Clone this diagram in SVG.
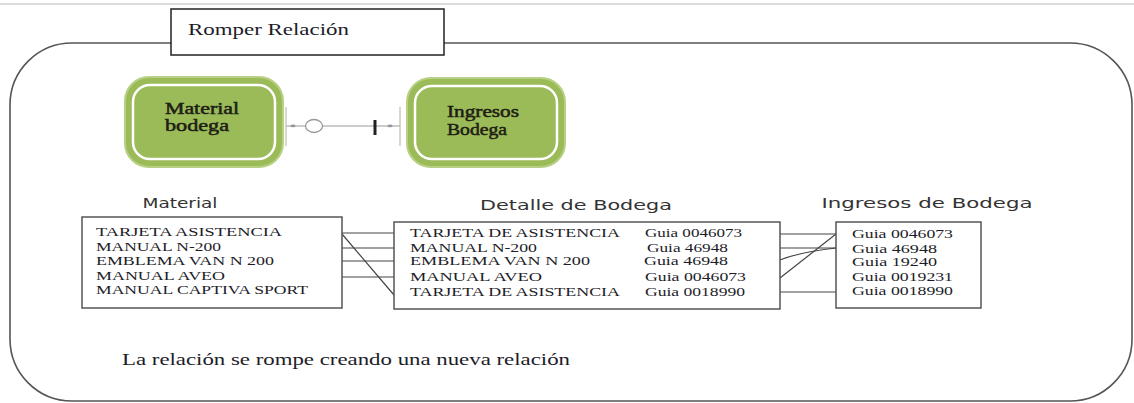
<svg xmlns="http://www.w3.org/2000/svg" width="1134" height="403" viewBox="0 0 1134 403">
<style>
.serif{font-family:"Liberation Serif","Times New Roman",serif;fill:#1c1c28}
.sans{font-family:"DejaVu Sans","Verdana",sans-serif;fill:#333;font-size:14px}
.row{font-size:13px}
.box{fill:#fff;stroke:#555;stroke-width:1.5}
.ln{stroke:#444;stroke-width:1.2;fill:none}
.gout{fill:#9bbb59;stroke:#b7d083;stroke-width:2}
.gin{fill:#9bbb59;stroke:#fff;stroke-width:2.5}
.gtxt{font-family:"Liberation Serif","Times New Roman",serif;font-size:16px;fill:#1e1e14;stroke:#1e1e14;stroke-width:0.5}
</style>
<rect width="1134" height="403" fill="#fff"/>
<line x1="0" y1="4" x2="1134" y2="4" stroke="#d0d0d0" stroke-width="1.5"/>
<g id="frame">
<rect x="10" y="43" width="1122" height="358" rx="62" ry="62" fill="none" stroke="#555" stroke-width="1.6"/>
</g>
<g id="title">
<rect x="171" y="9" width="273" height="46" fill="#fff" stroke="#222" stroke-width="1.5"/>
<text x="188" y="35" class="serif" font-size="17" textLength="161" lengthAdjust="spacingAndGlyphs">Romper Relación</text>
</g>
<g id="node-material-bodega">
<rect x="125" y="77" width="158" height="90" rx="24" class="gout"/>
<rect x="133" y="85" width="142" height="74" rx="17" class="gin"/>
<text x="165" y="114" class="gtxt" textLength="74" lengthAdjust="spacingAndGlyphs">Material</text>
<text x="165" y="131" class="gtxt" textLength="64" lengthAdjust="spacingAndGlyphs">bodega</text>
</g>
<g id="node-ingresos-bodega">
<rect x="407" y="78" width="158" height="89" rx="24" class="gout"/>
<rect x="415" y="86" width="142" height="73" rx="17" class="gin"/>
<text x="447" y="117" class="gtxt" textLength="72" lengthAdjust="spacingAndGlyphs">Ingresos</text>
<text x="447" y="135" class="gtxt" textLength="60" lengthAdjust="spacingAndGlyphs">Bodega</text>
</g>
<g id="connectors">
<line x1="286" y1="107" x2="286" y2="146" stroke="#c8cbb8" stroke-width="1.5"/>
<line x1="400" y1="107" x2="400" y2="146" stroke="#c8cbb8" stroke-width="1.5"/>
<line x1="286" y1="126" x2="400" y2="126" stroke="#bbb" stroke-width="1.3"/>
<text x="290" y="128" font-family="DejaVu Sans,sans-serif" font-size="7" fill="#555">∞</text>
<text x="387" y="128" font-family="DejaVu Sans,sans-serif" font-size="7" fill="#555">∞</text>
<ellipse cx="314" cy="126" rx="8.5" ry="6.5" fill="#fff" stroke="#999" stroke-width="1.3"/>
<line x1="375" y1="120" x2="375" y2="135" stroke="#222" stroke-width="3"/>
<line x1="342" y1="233" x2="394" y2="233" class="ln"/>
<line x1="342" y1="248" x2="394" y2="248" class="ln"/>
<line x1="342" y1="261" x2="394" y2="261" class="ln"/>
<line x1="342" y1="277" x2="394" y2="277" class="ln"/>
<line x1="342" y1="234" x2="394" y2="295" class="ln"/>
<line x1="780" y1="234" x2="836" y2="234" class="ln"/>
<line x1="780" y1="248" x2="836" y2="248" class="ln"/>
<line x1="780" y1="292" x2="836" y2="292" class="ln"/>
<path d="M780 260 Q800 252 836 248" class="ln"/>
<line x1="780" y1="278" x2="836" y2="234" class="ln"/>
</g>
<g id="table-material">
<text x="180" y="208" class="sans" text-anchor="middle" textLength="75" lengthAdjust="spacingAndGlyphs">Material</text>
<rect x="82" y="217" width="260" height="91" class="box"/>
<text x="96" y="236" class="serif row" textLength="186" lengthAdjust="spacingAndGlyphs">TARJETA  ASISTENCIA</text>
<text x="96" y="251" class="serif row" textLength="125" lengthAdjust="spacingAndGlyphs">MANUAL N-200</text>
<text x="96" y="265" class="serif row" textLength="178" lengthAdjust="spacingAndGlyphs">EMBLEMA VAN N 200</text>
<text x="96" y="280" class="serif row" textLength="129" lengthAdjust="spacingAndGlyphs">MANUAL AVEO</text>
<text x="96" y="294" class="serif row" textLength="212" lengthAdjust="spacingAndGlyphs">MANUAL CAPTIVA SPORT</text>
</g>
<g id="table-detalle">
<text x="576" y="210" class="sans" text-anchor="middle" textLength="192" lengthAdjust="spacingAndGlyphs">Detalle  de  Bodega</text>
<rect x="394" y="222" width="386" height="87" class="box"/>
<text x="410" y="237" class="serif row" textLength="210" lengthAdjust="spacingAndGlyphs">TARJETA  DE ASISTENCIA</text>
<text x="410" y="252" class="serif row" textLength="127" lengthAdjust="spacingAndGlyphs">MANUAL N-200</text>
<text x="410" y="265" class="serif row" textLength="180" lengthAdjust="spacingAndGlyphs">EMBLEMA VAN N 200</text>
<text x="410" y="281" class="serif row" textLength="132" lengthAdjust="spacingAndGlyphs">MANUAL AVEO</text>
<text x="410" y="296" class="serif row" textLength="210" lengthAdjust="spacingAndGlyphs">TARJETA  DE ASISTENCIA</text>
<text x="645" y="237" class="serif row" textLength="97" lengthAdjust="spacingAndGlyphs">Guia 0046073</text>
<text x="647" y="252" class="serif row" textLength="81" lengthAdjust="spacingAndGlyphs">Guia 46948</text>
<text x="644" y="265" class="serif row" textLength="84" lengthAdjust="spacingAndGlyphs">Guia 46948</text>
<text x="645" y="281" class="serif row" textLength="101" lengthAdjust="spacingAndGlyphs">Guia 0046073</text>
<text x="645" y="296" class="serif row" textLength="100" lengthAdjust="spacingAndGlyphs">Guia 0018990</text>
</g>
<g id="table-ingresos">
<text x="927" y="208" class="sans" text-anchor="middle" textLength="211" lengthAdjust="spacingAndGlyphs">Ingresos  de  Bodega</text>
<rect x="836" y="222" width="145" height="86" class="box"/>
<text x="852" y="238" class="serif row" textLength="101" lengthAdjust="spacingAndGlyphs">Guia 0046073</text>
<text x="852" y="253" class="serif row" textLength="85" lengthAdjust="spacingAndGlyphs">Guia 46948</text>
<text x="852" y="266" class="serif row" textLength="85" lengthAdjust="spacingAndGlyphs">Guia 19240</text>
<text x="852" y="281" class="serif row" textLength="101" lengthAdjust="spacingAndGlyphs">Guia 0019231</text>
<text x="852" y="295" class="serif row" textLength="101" lengthAdjust="spacingAndGlyphs">Guia 0018990</text>
</g>
<g id="note">
<text x="122" y="365" class="serif" font-size="17" textLength="448" lengthAdjust="spacingAndGlyphs">La relación  se rompe creando una nueva relación</text>
</g>
</svg>
